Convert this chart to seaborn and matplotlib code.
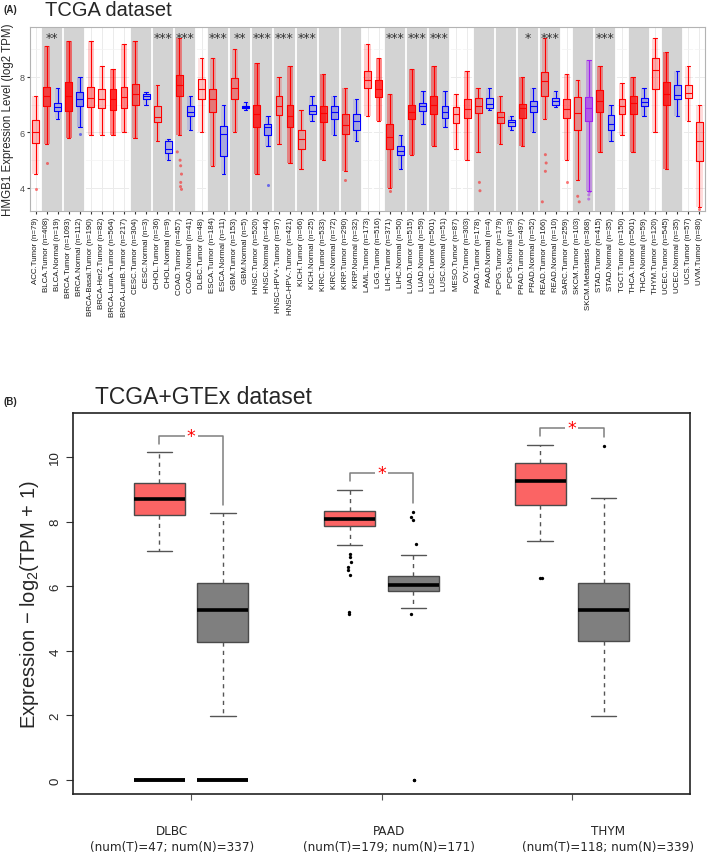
import numpy as np
import pandas as pd
import matplotlib
matplotlib.use("Agg")
import matplotlib.pyplot as plt
import seaborn as sns
from matplotlib import font_manager as fm
from matplotlib.colors import to_rgba
from matplotlib.transforms import blended_transform_factory

# ---------------- panel A data (TIMER, HMGB1 log2 TPM) ----------------
cats = ["ACC.Tumor", "BLCA.Tumor", "BLCA.Normal", "BRCA.Tumor", "BRCA.Normal",
        "BRCA-Basal.Tumor", "BRCA-Her2.Tumor", "BRCA-LumA.Tumor", "BRCA-LumB.Tumor",
        "CESC.Tumor", "CESC.Normal", "CHOL.Tumor", "CHOL.Normal", "COAD.Tumor",
        "COAD.Normal", "DLBC.Tumor", "ESCA.Tumor", "ESCA.Normal", "GBM.Tumor",
        "GBM.Normal", "HNSC.Tumor", "HNSC.Normal", "HNSC-HPV+.Tumor", "HNSC-HPV-.Tumor",
        "KICH.Tumor", "KICH.Normal", "KIRC.Tumor", "KIRC.Normal", "KIRP.Tumor",
        "KIRP.Normal", "LAML.Tumor", "LGG.Tumor", "LIHC.Tumor", "LIHC.Normal",
        "LUAD.Tumor", "LUAD.Normal", "LUSC.Tumor", "LUSC.Normal", "MESO.Tumor",
        "OV.Tumor", "PAAD.Tumor", "PAAD.Normal", "PCPG.Tumor", "PCPG.Normal",
        "PRAD.Tumor", "PRAD.Normal", "READ.Tumor", "READ.Normal", "SARC.Tumor",
        "SKCM.Tumor", "SKCM.Metastasis", "STAD.Tumor", "STAD.Normal", "TGCT.Tumor",
        "THCA.Tumor", "THCA.Normal", "THYM.Tumor", "UCEC.Tumor", "UCEC.Normal",
        "UCS.Tumor", "UVM.Tumor"]
n_samples = [79, 408, 19, 1093, 112, 190, 82, 564, 217, 304, 3, 36, 9, 457, 41, 48,
             184, 11, 153, 5, 520, 44, 97, 421, 66, 25, 533, 72, 290, 32, 173, 516,
             371, 50, 515, 59, 501, 51, 87, 303, 178, 4, 179, 3, 497, 52, 166, 10,
             259, 103, 368, 415, 35, 150, 501, 59, 120, 545, 35, 57, 80]
low = [4.5, 5.6, 6.5, 5.8, 6.2, 5.9, 5.9, 5.9, 6.0, 5.8, 7.0, 5.7, 5.0, 5.9, 6.1, 6.0,
       4.8, 4.5, 6.0, 6.8, 4.5, 5.5, 5.6, 4.9, 4.7, 6.4, 5.0, 5.9, 4.6, 5.7, 6.6, 6.4,
       4.0, 4.7, 5.2, 6.3, 5.5, 6.2, 5.4, 5.0, 5.3, 6.8, 5.6, 6.1, 5.5, 6.0, 6.5, 6.9,
       5.0, 4.3, 3.9, 5.3, 5.7, 5.9, 5.3, 6.6, 6.0, 4.7, 6.6, 6.4, 3.3]
q1 = [5.61, 6.97, 6.76, 6.79, 6.97, 6.91, 6.88, 6.81, 6.87, 6.99, 7.21, 6.39, 5.27,
      7.30, 6.61, 7.21, 6.73, 5.15, 7.19, 6.88, 6.18, 5.90, 6.63, 6.18, 5.39, 6.67,
      6.39, 6.48, 5.94, 6.10, 7.60, 7.27, 5.39, 5.18, 6.48, 6.79, 6.67, 6.51, 6.34,
      6.51, 6.69, 6.88, 6.34, 6.24, 6.51, 6.73, 7.33, 6.99, 6.52, 6.10, 6.42, 6.73,
      6.10, 6.67, 6.67, 6.95, 7.55, 6.99, 7.19, 7.24, 4.97]
med = [6.02, 7.31, 6.91, 7.33, 7.21, 7.25, 7.19, 7.21, 7.27, 7.39, 7.33, 6.55, 5.39,
       7.72, 6.73, 7.58, 7.21, 5.94, 7.60, 6.91, 6.67, 6.18, 6.97, 6.61, 5.76, 6.79,
       6.70, 6.73, 6.27, 6.42, 7.88, 7.55, 5.85, 5.33, 6.73, 6.95, 6.99, 6.73, 6.67,
       6.85, 6.95, 7.03, 6.55, 6.36, 6.87, 6.95, 7.84, 7.15, 6.85, 6.70, 6.87, 7.15,
       6.30, 6.97, 7.07, 7.09, 8.24, 7.39, 7.36, 7.43, 5.70]
q3 = [6.46, 7.64, 7.07, 7.82, 7.45, 7.64, 7.55, 7.58, 7.64, 7.76, 7.39, 6.95, 5.70,
      8.08, 6.95, 7.94, 7.58, 6.24, 7.96, 6.94, 6.99, 6.30, 7.30, 6.99, 6.08, 6.99,
      6.97, 6.95, 6.67, 6.67, 8.21, 7.88, 6.30, 5.52, 6.99, 7.07, 7.33, 6.97, 6.91,
      7.21, 7.25, 7.24, 6.73, 6.46, 7.03, 7.13, 8.18, 7.24, 7.21, 7.26, 7.27, 7.52,
      6.63, 7.21, 7.33, 7.25, 8.67, 7.82, 7.72, 7.72, 6.39]
high = [7.33, 9.1, 7.6, 9.3, 8.0, 9.3, 8.4, 8.3, 9.2, 9.3, 7.45, 7.7, 5.75, 9.4, 7.3,
        8.7, 8.7, 7.0, 9.0, 7.1, 8.5, 6.6, 8.0, 8.4, 6.8, 7.3, 8.1, 7.3, 7.6, 7.2, 9.2,
        8.7, 7.4, 5.9, 8.3, 7.5, 8.4, 7.5, 7.4, 8.2, 7.6, 7.6, 7.3, 6.6, 8.0, 7.6, 9.4,
        7.5, 8.1, 7.9, 8.6, 8.4, 7.0, 7.8, 8.0, 7.6, 9.4, 8.9, 8.2, 8.4, 7.0]

# isolated points read outside the main clouds
out_cat = ["ACC.Tumor", "BLCA.Tumor", "BRCA.Normal", "COAD.Tumor", "COAD.Tumor",
           "COAD.Tumor", "COAD.Tumor", "COAD.Tumor", "COAD.Tumor", "COAD.Tumor",
           "HNSC.Normal", "KIRP.Tumor", "LIHC.Tumor", "PAAD.Tumor", "PAAD.Tumor",
           "READ.Tumor", "READ.Tumor", "READ.Tumor", "READ.Tumor", "SARC.Tumor",
           "SKCM.Tumor", "SKCM.Tumor", "SKCM.Metastasis", "SKCM.Metastasis",
           "SKCM.Metastasis", "UVM.Tumor"]
out_val = [3.98, 4.9, 5.95, 3.95, 4.05, 4.2, 4.5, 4.8, 5.0, 5.3, 4.1, 4.3, 3.9, 4.2,
           3.9, 3.5, 4.6, 4.9, 5.2, 4.2, 3.7, 3.5, 3.6, 3.75, 3.85, 3.25]

shaded_groups = ["BLCA", "BRCA", "CESC", "CHOL", "COAD", "ESCA", "GBM", "HNSC",
                 "HNSC-HPV", "KICH", "KIRC", "KIRP", "LIHC", "LUAD", "LUSC", "PAAD",
                 "PCPG", "PRAD", "READ", "SKCM", "STAD", "THCA", "UCEC"]
stars_top = {"BLCA": "**", "CHOL": "***", "COAD": "***", "ESCA": "***", "GBM": "**",
             "HNSC": "***", "HNSC-HPV": "***", "KICH": "***", "LIHC": "***",
             "LUAD": "***", "LUSC": "***", "PRAD": "*", "READ": "***", "STAD": "***"}

# ---------------- panel B data (GEPIA, TCGA+GTEx) ----------------
groups_b = ["DLBC", "PAAD", "THYM"]
num_t = [47, 179, 118]
num_n = [337, 171, 339]
tumor_stats = [[7.09, 8.20, 8.69, 9.20, 10.14],
               [7.28, 7.87, 8.08, 8.32, 8.99],
               [7.39, 8.52, 9.27, 9.80, 10.38]]
normal_stats = [[1.99, 4.28, 5.26, 6.09, 8.26],
                [5.32, 5.84, 6.04, 6.31, 6.97],
                [1.99, 4.29, 5.26, 6.10, 8.73]]
tumor_out = [[], [5.15, 5.2, 6.35, 6.5, 6.6, 6.75, 6.9, 7.0], [6.24, 6.26]]
normal_out = [[], [8.3, 8.15, 8.05, 7.3, 5.14, 0.0, 0.0], [10.35]]
zero_bars = [["T", "N"], [], []]

# ---------------- style ----------------
sns.set_style("white")
plt.rcParams["font.family"] = ["Liberation Sans", "DejaVu Sans"]
plt.rcParams["mathtext.fontset"] = "custom"
plt.rcParams["mathtext.rm"] = "Liberation Sans"
plt.rcParams["mathtext.it"] = "Liberation Sans:italic"

# narrow font for the GEPIA group labels, if one is installed
try:
    fm.findfont(fm.FontProperties(family="Liberation Sans Narrow"),
                fallback_to_default=False)
    narrow = dict(family="Liberation Sans Narrow", fontsize=11)
except ValueError:
    cond = fm.findfont(fm.FontProperties(family="DejaVu Sans", stretch="condensed"))
    if "Condensed" in cond:
        narrow = dict(family="DejaVu Sans", fontstretch="condensed", fontsize=9.6)
    else:
        narrow = dict(family="Liberation Sans", fontsize=9.5)

pal = {"Tumor": "#ff0000", "Normal": "#0000ff", "Metastasis": "#a020f0"}

fig = plt.figure(figsize=(7.09, 8.62), dpi=100)
ax1 = fig.add_axes([30 / 709, 1 - 212 / 862, 675 / 709, 184 / 862])
ax2 = fig.add_axes([73 / 709, 1 - 795 / 862, 617 / 709, 381 / 862])


def group_key(name):
    pre = name.split(".")[0]
    if pre.startswith("HNSC-HPV"):
        return "HNSC-HPV"
    if pre.startswith("BRCA-"):
        return "BRCA-sub"
    return pre


types = [c.split(".")[1] for c in cats]
keys = [group_key(c) for c in cats]

# runs of same cancer group
runs = []
start = 0
for i in range(1, len(cats) + 1):
    if i == len(cats) or keys[i] != keys[start]:
        runs.append((keys[start], start, i - 1))
        start = i

ax1.set_axisbelow(True)
for k, s, e in runs:
    if k in shaded_groups:
        ax1.axvspan(s - 0.5, e + 0.5, color="#d3d3d3", lw=0, zorder=0.6)
for k, s, e in runs[1:]:
    ax1.axvline(s - 0.5, color="white", lw=1.3, zorder=0.7)

# point-cloud stand-in: faint band over the range, denser over the box
x = np.arange(len(cats))
dens = np.clip(np.array(n_samples), 0, 600) / 600
low_a, q1_a, q3_a, high_a = map(np.array, (low, q1, q3, high))
ax1.bar(x, high_a - low_a, bottom=low_a, width=0.55, lw=0, zorder=1.2,
        color=[to_rgba(pal[t], 0.08 + 0.42 * d) for t, d in zip(types, dens)])
ax1.bar(x, q3_a - q1_a, bottom=q1_a, width=0.62, lw=0, zorder=1.3,
        color=[to_rgba(pal[t], 0.1 + 0.6 * d) for t, d in zip(types, dens)])

rows = []
for c, t, a, b, m, d, e in zip(cats, types, low, q1, med, q3, high):
    for v in (a, b, m, d, e):
        rows.append((c, t, v))
df_top = pd.DataFrame(rows, columns=["cat", "type", "val"])
sns.boxplot(data=df_top, x="cat", y="val", hue="type", order=cats, palette=pal,
            saturation=1, fill=False, whis=(0, 100), dodge=False, width=0.62,
            linewidth=0.8, showfliers=False, legend=False, ax=ax1)
out_type = [c.split(".")[1] for c in out_cat]
sns.stripplot(x=out_cat, y=out_val, hue=out_type, order=cats, palette=pal, size=2.2,
              alpha=0.5, jitter=0.2, legend=False, ax=ax1)

for k, s, e in runs:
    if k in stars_top:
        ax1.text((s + e) / 2, 9.42, stars_top[k], ha="center", va="center",
                 fontsize=9, color="#333333", family="DejaVu Sans")

ax1.grid(True, which="major", color="#ebebeb", lw=0.7)
ax1.set_yticks([5, 7, 9], minor=True)
ax1.grid(True, which="minor", axis="y", color="#f3f3f3", lw=0.5)
ax1.set_xlim(-0.5, len(cats) - 0.5)
ax1.set_ylim(3.17, 9.8)
ax1.set_yticks([4, 6, 8])
ax1.set_xticks(x)
ax1.set_xticklabels([f"{c} (n={k})" for c, k in zip(cats, n_samples)], rotation=90,
                    fontsize=5.7, color="#1a1a1a")
ax1.tick_params(axis="y", which="major", labelsize=6.5, labelcolor="#4d4d4d",
                length=2.5, pad=1.5, left=True, color="#333333")
ax1.tick_params(axis="y", which="minor", length=0)
ax1.tick_params(axis="x", length=2.5, pad=1.5, bottom=True, color="#333333")
ax1.set_xlabel("")
ax1.set_ylabel("HMGB1 Expression Level (log2 TPM)", fontsize=8.3, labelpad=4)
for sp in ax1.spines.values():
    sp.set_color("#b3b3b3")
    sp.set_linewidth(0.8)

# ---------------- panel B ----------------
off = 1 / 6
rows = []
for gi, g in enumerate(groups_b):
    for kind, stats in (("T", tumor_stats[gi]), ("N", normal_stats[gi])):
        p = gi - off if kind == "T" else gi + off
        for v in stats:
            rows.append((p, kind, v))
df_b = pd.DataFrame(rows, columns=["pos", "kind", "val"])

sns.boxplot(data=df_b, x="pos", y="val", hue="kind", hue_order=["T", "N"],
            palette={"T": "#fb6464", "N": "#7f7f7f"}, saturation=1,
            native_scale=True, orient="x",
            dodge=False, width=0.8, whis=(0, 100), linewidth=1.0, linecolor="#4a4a4a",
            medianprops=dict(color="black", linewidth=2.6),
            whiskerprops=dict(linestyle=(0, (3, 3)), color="#555555"),
            capprops=dict(color="#555555"),
            showfliers=False, legend=False, ax=ax2)

box_w = 0.8 * 2 * off
op, ov = [], []
for gi in range(len(groups_b)):
    for v in tumor_out[gi]:
        op.append(gi - off); ov.append(v)
    for v in normal_out[gi]:
        op.append(gi + off); ov.append(v)
    for kind in zero_bars[gi]:
        p = gi - off if kind == "T" else gi + off
        ax2.hlines(0, p - box_w / 2, p + box_w / 2, color="black", lw=2.8, zorder=3)
sns.stripplot(x=op, y=ov, native_scale=True, orient="x", color="black", size=2.4,
              jitter=0.04, ax=ax2, zorder=4)

for gi in range(len(groups_b)):
    tmax = max(tumor_stats[gi] + tumor_out[gi])
    nmax = max(normal_stats[gi] + normal_out[gi])
    ytop = max(tmax, nmax) + 0.52
    ax2.plot([gi - off, gi - off, gi + off, gi + off],
             [tmax + 0.26, ytop, ytop, nmax + 0.26], color="#7f7f7f", lw=1.1)
    ax2.text(gi, ytop, "*", color="red", fontsize=12.5, ha="center", va="center",
             family="DejaVu Sans",
             bbox=dict(facecolor="white", edgecolor="none", pad=1.5))

ax2.set_xlim(-0.62, 2.62)
ax2.set_ylim(-0.43, 11.36)
ax2.set_yticks([0, 2, 4, 6, 8, 10])
ax2.set_xticks(range(len(groups_b)))
ax2.set_xticklabels([])
ax2.tick_params(axis="x", length=4, bottom=True, color="#555555")
ax2.tick_params(axis="y", length=5, labelsize=9.5, labelrotation=90, left=True,
                color="#333333")
for lab in ax2.get_yticklabels():
    lab.set_va("center")
ax2.set_xlabel("")
ax2.set_ylabel("Expression − log$_2$(TPM + 1)", fontsize=14.5, labelpad=6)
for sp in ax2.spines.values():
    sp.set_color("#222222")
    sp.set_linewidth(1.2)

# group labels sit a little off the tick marks in the original
label_shift = [-0.1, 0.04, 0.19]
lab_tr = blended_transform_factory(ax2.transData, fig.transFigure)
for gi, g in enumerate(groups_b):
    ax2.text(gi + label_shift[gi], 1 - 840 / 862,
             f"{g}\n(num(T)={num_t[gi]}; num(N)={num_n[gi]})",
             transform=lab_tr, ha="center", va="center", multialignment="center",
             linespacing=1.3, **narrow)

# ---------------- titles / panel tags ----------------
fig.text(4 / 709, 1 - 10 / 862, "(A)", fontsize=7, weight="bold", va="center")
fig.text(45 / 709, 1 - 11 / 862, "TCGA dataset", fontsize=14.5, va="center")
fig.text(4 / 709, 1 - 402 / 862, "(B)", fontsize=7, weight="bold", va="center")
fig.text(95 / 709, 1 - 398 / 862, "TCGA+GTEx dataset", fontsize=16.5, va="center")

fig.savefig("out.png", dpi=100)
